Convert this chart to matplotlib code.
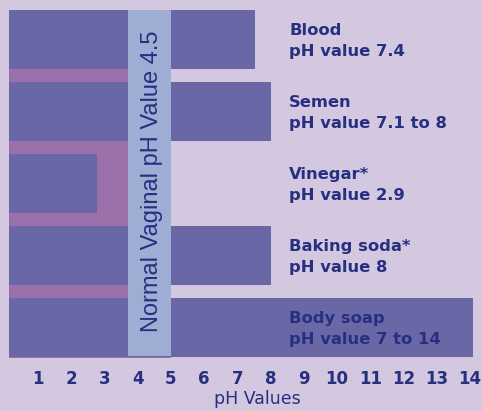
import numpy as np
import matplotlib.pyplot as plt

# substances, bar length (pH) and label text
names = ["Blood", "Semen", "Vinegar*", "Baking soda*", "Body soap"]
ph_bar = [7.53, 8.0, 2.78, 8.0, 14.1]
ph_text = ["pH value 7.4", "pH value 7.1 to 8", "pH value 2.9", "pH value 8", "pH value 7 to 14"]
ticks = list(range(1, 15))
bar_start = 0.13
normal_lo, normal_hi = 3.7, 5.0
normal_label = "Normal Vaginal pH Value 4.5"

bg = "#d3c8e0"
bar_col = "#6a67a6"
pink = "#9b70aa"
band_col = "#9eadd4"
navy = "#262f80"

fig = plt.figure(figsize=(4.82, 4.11), dpi=100)
fig.patch.set_facecolor(bg)
ax = fig.add_axes([0, 0, 1, 1])
ax.set_facecolor(bg)

y = np.arange(len(names))
ax.set_xlim(-0.1435, 14.36)
ax.set_ylim(5.16, -0.549)

# pink backdrop behind the lower bars, up to the normal band
ax.fill_between([bar_start, normal_hi], y[0] + 0.41, y[-1] + 0.43, color=pink, lw=0, zorder=1)

widths = [p - bar_start for p in ph_bar]
ax.barh(y, widths, left=bar_start, height=0.83, color=bar_col, zorder=2)

# normal vaginal pH band
ax.fill_between([normal_lo, normal_hi], -0.41, y[-1] + 0.40, color=band_col, lw=0, zorder=3)
ax.text((normal_lo + normal_hi) / 2 + 0.08, 1.97, normal_label, rotation=90, ha="center", va="center",
        fontsize=17, family="Liberation Sans", color=navy, zorder=4)

for i, (n, t) in enumerate(zip(names, ph_text)):
    ax.text(8.56, i + 0.02, n + "\n" + t, ha="left", va="center", fontsize=11.8,
            fontweight="bold", color=navy, linespacing=1.45, zorder=5)

for tk in ticks:
    ax.text(tk, 4.72, str(tk), ha="center", va="center", fontsize=12, fontweight="bold", color=navy)
ax.text(7.59, 5.0, "pH Values", ha="center", va="center", fontsize=12.5, color=navy)

ax.axis("off")
fig.savefig("out.png", dpi=100, facecolor=bg)
